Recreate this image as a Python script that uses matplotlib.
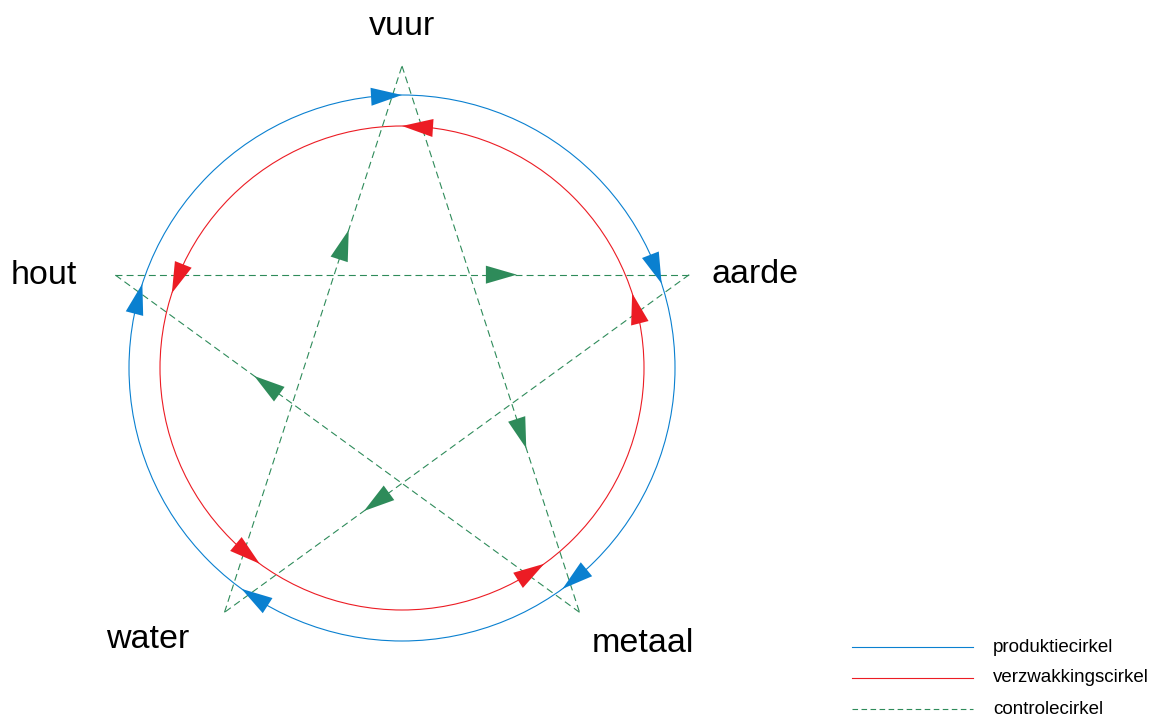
import numpy as np
import matplotlib
matplotlib.use('Agg')
import matplotlib.pyplot as plt
from matplotlib.patches import Polygon, Circle

plt.rcParams['font.family'] = ['Liberation Sans', 'DejaVu Sans']
plt.rcParams['lines.scale_dashes'] = False

# the five elements and their angle (degrees) on the circle
elements = ['vuur', 'aarde', 'metaal', 'water', 'hout']
angles = [90, 18, -54, -126, 162]

# cycles (each a closed order of elements)
production_cycle = ['hout', 'vuur', 'aarde', 'metaal', 'water']      # clockwise
weakening_cycle = ['aarde', 'vuur', 'hout', 'water', 'metaal']       # counter clockwise
control_cycle = ['hout', 'aarde', 'water', 'vuur', 'metaal']         # pentagram

legend_labels = ['produktiecirkel', 'verzwakkingscirkel', 'controlecirkel']

BLUE = '#0a80d0'
RED = '#ec1c24'
GREEN = '#2e8b5a'

# layout (1 data unit = 1 pixel, origin at the centre)
CX, CY = 402, 368
R_STAR = 302
R_BLUE = 273
R_RED = 242
ARROW_LEN = 31
ARROW_W = 18

W, H = 1157, 717
fig = plt.figure(figsize=(W / 100, H / 100), dpi=100)
ax = fig.add_axes([0, 0, 1, 1])
ax.set_xlim(-CX, W - CX)
ax.set_ylim(CY - H, CY)
ax.axis('off')

ang = dict(zip(elements, angles))


def pos(name, r):
    a = np.radians(ang[name])
    return np.array([r * np.cos(a), r * np.sin(a)])


def triangle(tip, base, color):
    d = tip - base
    d = d / np.hypot(*d)
    n = np.array([-d[1], d[0]])
    base = tip - d * ARROW_LEN
    pts = [tip, base + n * ARROW_W / 2, base - n * ARROW_W / 2]
    ax.add_patch(Polygon(pts, closed=True, fc=color, ec='none', zorder=5))


# circles
ax.add_patch(Circle((0, 0), R_BLUE, fill=False, ec=BLUE, lw=0.8))
ax.add_patch(Circle((0, 0), R_RED, fill=False, ec=RED, lw=0.8))

# circle arrows, tip at each element's angle
for cycle, r, color, sign in [(production_cycle, R_BLUE, BLUE, -1),
                              (weakening_cycle, R_RED, RED, 1)]:
    for name in cycle:
        a = np.radians(ang[name])
        back = a - sign * ARROW_LEN / r
        tip = np.array([r * np.cos(a), r * np.sin(a)])
        base = np.array([r * np.cos(back), r * np.sin(back)])
        triangle(tip, base, color)

# pentagram (control cycle)
for i, name in enumerate(control_cycle):
    p0 = pos(name, R_STAR)
    p1 = pos(control_cycle[(i + 1) % 5], R_STAR)
    ax.plot([p0[0], p1[0]], [p0[1], p1[1]], color=GREEN, lw=0.8,
            dashes=(5, 3))
    tip = p0 + 0.70 * (p1 - p0)
    triangle(tip, p0, GREEN)

# element labels
label_pos = {'vuur': (0, CY - 35), 'aarde': (353, CY - 283),
             'metaal': (241, CY - 652), 'water': (-254, CY - 648),
             'hout': (-358, CY - 284)}
for name in elements:
    x, y = label_pos[name]
    ax.text(x, y, name, fontsize=24.5, ha='center', va='baseline')

# legend
styles = [dict(color=BLUE, lw=0.8), dict(color=RED, lw=0.8),
          dict(color=GREEN, lw=0.8, dashes=(4, 2.5))]
for i, (lab, st) in enumerate(zip(legend_labels, styles)):
    y = CY - (647 + 31 * i)
    ax.plot([852 - CX, 973 - CX], [y, y], **st)
    ax.text(993 - CX, y, lab, fontsize=13.5, ha='left', va='center')

fig.savefig('out.png', dpi=100)
